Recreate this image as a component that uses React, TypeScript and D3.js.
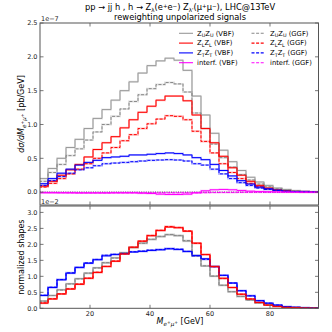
import React from "react";
import * as d3 from "d3";

// bin edges in GeV (3 GeV bins)
const binEdges = [3,6,9,12,15,18,21,24,27,30,33,36,39,42,45,48,51,54,57,60,63,66,69,72,75,78,81,84,87,90,93,96];

// top panel, units of 1e-7 pb/GeV
const uuVBF = [0.20,0.35,0.50,0.66,0.78,0.94,1.09,1.22,1.36,1.50,1.63,1.76,1.87,1.94,1.98,1.95,1.80,1.42,1.14,0.87,0.62,0.45,0.32,0.22,0.15,0.10,0.06,0.04,0.02,0.01,0.005];
const uuGGF = [0.16,0.29,0.41,0.54,0.64,0.77,0.89,1.00,1.12,1.23,1.34,1.44,1.53,1.59,1.62,1.60,1.48,1.17,0.94,0.71,0.51,0.37,0.26,0.18,0.12,0.08,0.05,0.03,0.02,0.01,0.004];
const llVBF = [0.09,0.16,0.25,0.33,0.41,0.52,0.63,0.73,0.82,0.95,1.07,1.18,1.27,1.36,1.42,1.42,1.35,1.14,0.94,0.73,0.53,0.36,0.25,0.16,0.10,0.06,0.03,0.02,0.01,0.005,0.003];
const llGGF = [0.075,0.13,0.20,0.27,0.34,0.42,0.50,0.58,0.66,0.76,0.85,0.94,1.01,1.08,1.13,1.12,1.07,0.90,0.75,0.58,0.42,0.29,0.20,0.13,0.08,0.05,0.03,0.015,0.01,0.004,0.002];
const ttVBF = [0.125,0.20,0.28,0.34,0.40,0.44,0.47,0.51,0.52,0.53,0.55,0.55,0.56,0.57,0.58,0.57,0.55,0.51,0.48,0.41,0.32,0.24,0.17,0.12,0.075,0.05,0.03,0.015,0.01,0.006,0.003];
const ttGGF = [0.10,0.17,0.23,0.28,0.33,0.36,0.39,0.42,0.43,0.44,0.45,0.46,0.47,0.475,0.48,0.475,0.46,0.42,0.40,0.34,0.27,0.20,0.14,0.10,0.06,0.04,0.025,0.013,0.008,0.005,0.002];
const intVBF = [-0.01,-0.01,-0.01,-0.01,-0.012,-0.012,-0.012,-0.012,-0.01,-0.01,-0.01,-0.015,-0.02,-0.03,-0.035,-0.035,-0.03,-0.01,0.02,0.035,0.04,0.035,0.025,0.015,0.01,0.006,0.004,0.002,0.001,0.0,0.0];
const intGGF = [-0.005,-0.006,-0.008,-0.01,-0.01,-0.01,-0.01,-0.01,-0.01,-0.01,-0.01,-0.01,-0.01,-0.01,-0.01,-0.01,-0.01,-0.01,-0.008,-0.006,-0.005,-0.004,-0.003,-0.002,-0.001,-0.001,0,0,0,0,0];

// bottom panel, normalized shapes, units of 1e-2
const uuNormVBF = [0.23,0.40,0.58,0.77,0.93,1.10,1.27,1.42,1.58,1.74,1.90,2.04,2.15,2.24,2.30,2.27,2.10,1.64,1.32,1.00,0.72,0.52,0.37,0.26,0.17,0.11,0.07,0.04,0.02,0.01,0.005];
const uuNormGGF = [0.22,0.40,0.57,0.76,0.92,1.10,1.26,1.43,1.57,1.74,1.90,2.03,2.16,2.25,2.31,2.28,2.12,1.65,1.33,1.01,0.72,0.52,0.37,0.26,0.17,0.11,0.07,0.04,0.02,0.01,0.005];
const llNormVBF = [0.16,0.29,0.45,0.60,0.75,0.94,1.12,1.31,1.47,1.70,1.91,2.10,2.27,2.43,2.54,2.52,2.41,2.04,1.68,1.31,0.94,0.65,0.44,0.29,0.18,0.10,0.06,0.03,0.02,0.01,0.005];
const llNormGGF = [0.17,0.30,0.45,0.61,0.76,0.94,1.13,1.31,1.48,1.70,1.91,2.10,2.28,2.44,2.56,2.53,2.42,2.03,1.68,1.30,0.93,0.65,0.44,0.29,0.18,0.10,0.06,0.03,0.02,0.01,0.005];
const ttNormVBF = [0.40,0.65,0.89,1.10,1.28,1.41,1.52,1.64,1.68,1.71,1.76,1.78,1.81,1.83,1.86,1.84,1.78,1.65,1.55,1.31,1.03,0.79,0.55,0.39,0.24,0.16,0.10,0.05,0.03,0.02,0.01];
const ttNormGGF = [0.41,0.66,0.90,1.11,1.28,1.42,1.53,1.66,1.69,1.72,1.77,1.79,1.82,1.84,1.87,1.85,1.78,1.64,1.53,1.30,1.03,0.79,0.55,0.39,0.24,0.16,0.10,0.05,0.03,0.02,0.01];

const topTicks = [0, 0.5, 1.0, 1.5, 2.0, 2.5];
const botTicks = [0, 0.5, 1.0, 1.5, 2.0, 2.5, 3.0];
const xTicks = [20, 40, 60, 80];
const legSubs = ["U", "L", "T"];

const FONT = "DejaVu Sans, sans-serif";
const L = 40, R = 318.5, T1 = 23, B1 = 205, T2 = 206, B2 = 308.3;
const GRAY = "#999999";
const AX = "#555555";
const DASH = "3,1.6";

function stepPath(vals: number[], x: d3.ScaleLinear<number, number>, y: d3.ScaleLinear<number, number>) {
  const pts: [number, number][] = vals.map((v, i) => [binEdges[i], v]);
  pts.push([binEdges[vals.length], vals[vals.length - 1]]);
  const line = d3.line<[number, number]>().x(d => x(d[0])).y(d => y(d[1])).curve(d3.curveStepAfter);
  return line(pts) || "";
}

function ZZ({ s }: { s: string }) {
  return (
    <>
      <tspan>Z</tspan>
      <tspan fontSize={4.9} dy={1.6}>{s}</tspan>
      <tspan dy={-1.6}>Z</tspan>
      <tspan fontSize={4.9} dy={1.6}>{s}</tspan>
    </>
  );
}

export default function App() {
  const x = d3.scaleLinear().domain([3.33, 96.17]).range([L, R]);
  const yT = d3.scaleLinear().domain([-0.19, 2.5]).range([B1, T1]);
  const yB = d3.scaleLinear().domain([0, 3.2]).range([B2, T2]);

  const topSeries = [
    { v: uuVBF, c: GRAY, d: "" },
    { v: uuGGF, c: "#888888", d: DASH },
    { v: llVBF, c: "#ff0000", d: "" },
    { v: llGGF, c: "#ff0000", d: DASH },
    { v: ttVBF, c: "#0000ff", d: "" },
    { v: ttGGF, c: "#0000ff", d: DASH },
    { v: intVBF, c: "#ff00ff", d: "" },
    { v: intGGF, c: "#ff00ff", d: DASH },
  ];
  const botSeries = [
    { v: uuNormVBF, c: GRAY, d: "" },
    { v: uuNormGGF, c: "#888888", d: DASH },
    { v: ttNormVBF, c: "#0000ff", d: "" },
    { v: ttNormGGF, c: "#0000ff", d: DASH },
    { v: llNormVBF, c: "#ff0000", d: "" },
    { v: llNormGGF, c: "#ff0000", d: DASH },
  ];

  const tickFs = 6.5;
  const legColors = [GRAY, "#ff0000", "#0000ff"];
  const legDashColors = ["#888888", "#ff0000", "#0000ff"];

  return (
    <svg width={332} height={332} style={{ position: "absolute", left: 0, top: 0, background: "#fff" }} fontFamily={FONT}>
      <defs>
        <clipPath id="c1"><rect x={L} y={T1} width={R - L} height={B1 - T1} /></clipPath>
        <clipPath id="c2"><rect x={L} y={T2} width={R - L} height={B2 - T2} /></clipPath>
      </defs>
      <rect x={0} y={0} width={332} height={332} fill="#fff" />

      {/* title */}
      <text x={180} y={10} fontSize={8.3} textAnchor="middle" fill="#000">
        pp → jj h , h → Z<tspan fontSize={5.5} dy={1.5}>λ</tspan><tspan dy={-1.5}>(e</tspan><tspan fontSize={5.5} dy={-2.5}>+</tspan><tspan dy={2.5}>e</tspan><tspan fontSize={5.5} dy={-2.5}>−</tspan><tspan dy={2.5}>) Z</tspan><tspan fontSize={5.5} dy={1.5}>λ'</tspan><tspan dy={-1.5}>(μ</tspan><tspan fontSize={5.5} dy={-2.5}>+</tspan><tspan dy={2.5}>μ</tspan><tspan fontSize={5.5} dy={-2.5}>−</tspan><tspan dy={2.5}>), LHC@13TeV</tspan>
      </text>
      <text x={180} y={20} fontSize={8.3} textAnchor="middle" fill="#000">reweighting unpolarized signals</text>

      {/* top panel curves */}
      <g clipPath="url(#c1)">
        <line x1={L} x2={R} y1={yT(0)} y2={yT(0)} stroke="#000" strokeWidth={0.9} strokeDasharray="1,1.3" />
        {topSeries.map((s, i) => (
          <path key={"h" + i} d={stepPath(s.v, x, yT)} fill="none" stroke={s.c} strokeOpacity={0.25} strokeWidth={2} />
        ))}
        {topSeries.map((s, i) => (
          <path key={"s" + i} d={stepPath(s.v, x, yT)} fill="none" stroke={s.c} strokeWidth={1} strokeDasharray={s.d} />
        ))}
      </g>
      {/* bottom panel curves */}
      <g clipPath="url(#c2)">
        {botSeries.map((s, i) => (
          <path key={"h" + i} d={stepPath(s.v, x, yB)} fill="none" stroke={s.c} strokeOpacity={0.25} strokeWidth={2} />
        ))}
        {botSeries.map((s, i) => (
          <path key={"s" + i} d={stepPath(s.v, x, yB)} fill="none" stroke={s.c} strokeWidth={1} strokeDasharray={s.d} />
        ))}
      </g>

      {/* frames */}
      <rect x={L} y={T1} width={R - L} height={B1 - T1} fill="none" stroke={AX} strokeWidth={1} />
      <rect x={L} y={T2} width={R - L} height={B2 - T2} fill="none" stroke={AX} strokeWidth={1} />

      {topTicks.map(t => (
        <g key={"ty" + t}>
          <line x1={L} x2={L + 3.5} y1={yT(t)} y2={yT(t)} stroke={AX} strokeWidth={0.8} />
          <line x1={R - 3.5} x2={R} y1={yT(t)} y2={yT(t)} stroke={AX} strokeWidth={0.8} />
          <text x={L - 2.5} y={yT(t) + 2.3} fontSize={tickFs} textAnchor="end" fill="#222">{t.toFixed(1)}</text>
        </g>
      ))}
      {botTicks.map(t => (
        <g key={"by" + t}>
          <line x1={L} x2={L + 3.5} y1={yB(t)} y2={yB(t)} stroke={AX} strokeWidth={0.8} />
          <line x1={R - 3.5} x2={R} y1={yB(t)} y2={yB(t)} stroke={AX} strokeWidth={0.8} />
          <text x={L - 2.5} y={yB(t) + 2.3} fontSize={tickFs} textAnchor="end" fill="#222">{t.toFixed(1)}</text>
        </g>
      ))}
      {xTicks.map(t => (
        <g key={"x" + t}>
          <line x1={x(t)} x2={x(t)} y1={T1} y2={T1 + 3.5} stroke={AX} strokeWidth={0.8} />
          <line x1={x(t)} x2={x(t)} y1={B1 - 3.5} y2={B1} stroke={AX} strokeWidth={0.8} />
          <line x1={x(t)} x2={x(t)} y1={T2} y2={T2 + 3.5} stroke={AX} strokeWidth={0.8} />
          <line x1={x(t)} x2={x(t)} y1={B2 - 3.5} y2={B2} stroke={AX} strokeWidth={0.8} />
          <text x={x(t)} y={B2 + 8} fontSize={tickFs} textAnchor="middle" fill="#222">{t}</text>
        </g>
      ))}

      <text x={L + 1} y={T1 - 2} fontSize={6.5} fill="#222">1e−7</text>
      <text x={L + 1} y={T2 - 2} fontSize={6.5} fill="#222">1e−2</text>

      <text transform={`translate(24,${(T1 + B1) / 2}) rotate(-90)`} fontSize={8} textAnchor="middle" fill="#000">
        <tspan fontStyle="italic">dσ/dM</tspan><tspan fontSize={5.6} fontStyle="italic" dy={2}>e</tspan><tspan fontSize={4.5} dy={-2.5}>+</tspan><tspan fontSize={5.6} fontStyle="italic" dy={2.5}>μ</tspan><tspan fontSize={4.5} dy={-2.5}>+</tspan><tspan dy={0.5}>  [pb/GeV]</tspan>
      </text>
      <text transform={`translate(24,${(T2 + B2) / 2}) rotate(-90)`} fontSize={8} textAnchor="middle" fill="#000">normalized shapes</text>
      <text x={180} y={324} fontSize={8} textAnchor="middle" fill="#000">
        <tspan fontStyle="italic">M</tspan><tspan fontSize={5.6} fontStyle="italic" dy={2}>e</tspan><tspan fontSize={4.5} dy={-2.5}>+</tspan><tspan fontSize={5.6} fontStyle="italic" dy={2.5}>μ</tspan><tspan fontSize={4.5} dy={-2.5}>+</tspan><tspan dy={0.5}>  [GeV]</tspan>
      </text>

      {/* legend */}
      {[0, 1, 2, 3].map(r => {
        const yy = 33.3 + r * 9.8;
        const col = r < 3 ? legColors[r] : "#ff00ff";
        const colD = r < 3 ? legDashColors[r] : "#ff00ff";
        return (
          <g key={"lg" + r}>
            <line x1={179} x2={193} y1={yy} y2={yy} stroke={col} strokeWidth={1.1} />
            <line x1={251.5} x2={265} y1={yy} y2={yy} stroke={colD} strokeWidth={1.1} strokeDasharray={DASH} />
            {r < 3 ? (
              <>
                <text x={197} y={yy + 2.3} fontSize={6.8} fill="#000"><ZZ s={legSubs[r]} /><tspan dy={-1.6}> (VBF)</tspan></text>
                <text x={270} y={yy + 2.3} fontSize={6.8} fill="#000"><ZZ s={legSubs[r]} /><tspan dy={-1.6}> (GGF)</tspan></text>
              </>
            ) : (
              <>
                <text x={197} y={yy + 2.3} fontSize={6.8} fill="#000">interf. (VBF)</text>
                <text x={270} y={yy + 2.3} fontSize={6.8} fill="#000">interf. (GGF)</text>
              </>
            )}
          </g>
        );
      })}
    </svg>
  );
}
